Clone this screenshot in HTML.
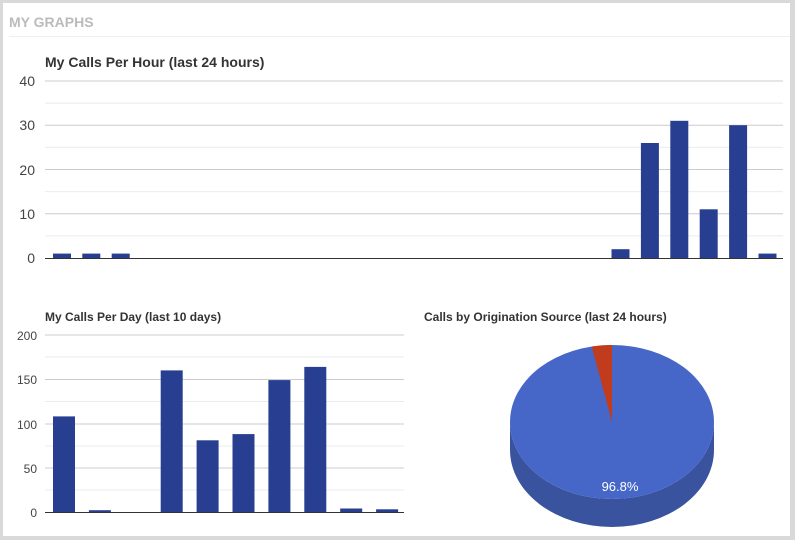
<!DOCTYPE html>
<html><head><meta charset="utf-8"><style>
html,body{margin:0;padding:0;background:#fff;}
body{width:795px;height:540px;overflow:hidden;font-family:"Liberation Sans",Arial,sans-serif;}
</style></head><body>
<svg width="795" height="540" xmlns="http://www.w3.org/2000/svg" font-family="Liberation Sans, Arial, sans-serif">
<rect x="0" y="0" width="795" height="540" fill="#d9d9d9"/>
<rect x="3" y="3" width="787" height="533" fill="#fff"/>
<text x="9" y="27" font-size="14" font-weight="bold" fill="#bbb">MY GRAPHS</text>
<line x1="9" y1="36.5" x2="790" y2="36.5" stroke="#eee"/>
<text x="45" y="67" font-size="14" font-weight="bold" fill="#333">My Calls Per Hour (last 24 hours)</text>
<g stroke="#ebebeb"><line x1="45" x2="783" y1="103.1" y2="103.1"/><line x1="45" x2="783" y1="147.4" y2="147.4"/><line x1="45" x2="783" y1="191.6" y2="191.6"/><line x1="45" x2="783" y1="235.9" y2="235.9"/></g>
<g stroke="#ccc"><line x1="45" x2="783" y1="81" y2="81"/><line x1="45" x2="783" y1="125.2" y2="125.2"/><line x1="45" x2="783" y1="169.5" y2="169.5"/><line x1="45" x2="783" y1="213.7" y2="213.7"/></g>
<g font-size="14" fill="#444" text-anchor="end"><text x="35" y="86">40</text><text x="35" y="130">30</text><text x="35" y="175">20</text><text x="35" y="219">10</text><text x="35" y="263">0</text></g>
<g fill="#283e91">
<rect x="53" y="253.6" width="18" height="4.4"/><rect x="82.3" y="253.6" width="18" height="4.4"/><rect x="111.7" y="253.6" width="18" height="4.4"/>
<rect x="611.5" y="249.2" width="18" height="8.8"/><rect x="640.9" y="143" width="18" height="115"/><rect x="670.3" y="120.8" width="18" height="137.2"/><rect x="699.7" y="209.3" width="18" height="48.7"/><rect x="729.1" y="125.2" width="18" height="132.8"/><rect x="758.5" y="253.6" width="18" height="4.4"/>
</g>
<line x1="45" x2="783" y1="258.5" y2="258.5" stroke="#333"/>

<text x="45" y="321" font-size="12" font-weight="bold" fill="#333">My Calls Per Day (last 10 days)</text>
<g stroke="#ebebeb"><line x1="45" x2="404" y1="357" y2="357"/><line x1="45" x2="404" y1="401.5" y2="401.5"/><line x1="45" x2="404" y1="446" y2="446"/><line x1="45" x2="404" y1="490" y2="490"/></g>
<g stroke="#ccc"><line x1="45" x2="404" y1="335" y2="335"/><line x1="45" x2="404" y1="379.5" y2="379.5"/><line x1="45" x2="404" y1="424" y2="424"/><line x1="45" x2="404" y1="468" y2="468"/></g>
<g font-size="12" fill="#444" text-anchor="end"><text x="37" y="340">200</text><text x="37" y="384">150</text><text x="37" y="429">100</text><text x="37" y="473">50</text><text x="37" y="517">0</text></g>
<g fill="#283e91">
<rect x="53" y="416.4" width="22" height="95.6"/><rect x="88.9" y="510.2" width="22" height="1.8"/><rect x="160.7" y="370.4" width="22" height="141.6"/><rect x="196.6" y="440.3" width="22" height="71.7"/><rect x="232.5" y="434.1" width="22" height="77.9"/><rect x="268.4" y="380.1" width="22" height="131.9"/><rect x="304.3" y="366.9" width="22" height="145.1"/><rect x="340.2" y="508.5" width="22" height="3.5"/><rect x="376.1" y="509.3" width="22" height="2.7"/>
</g>
<line x1="45" x2="404" y1="512.5" y2="512.5" stroke="#333"/>

<text x="424" y="321" font-size="12" font-weight="bold" fill="#333">Calls by Origination Source (last 24 hours)</text>
<path d="M510 422 A102 77 0 0 0 714 422 L714 450 A102 77 0 0 1 510 450 Z" fill="#3a539e"/>
<ellipse cx="612" cy="422" rx="102" ry="77" fill="#4666c8"/>
<path d="M612 422 L612 345 A102 77 0 0 0 591.7 346.5 Z" fill="#c13c1c"/>
<text x="620" y="491" font-size="13" fill="#fff" text-anchor="middle">96.8%</text>
</svg>
</body></html>
